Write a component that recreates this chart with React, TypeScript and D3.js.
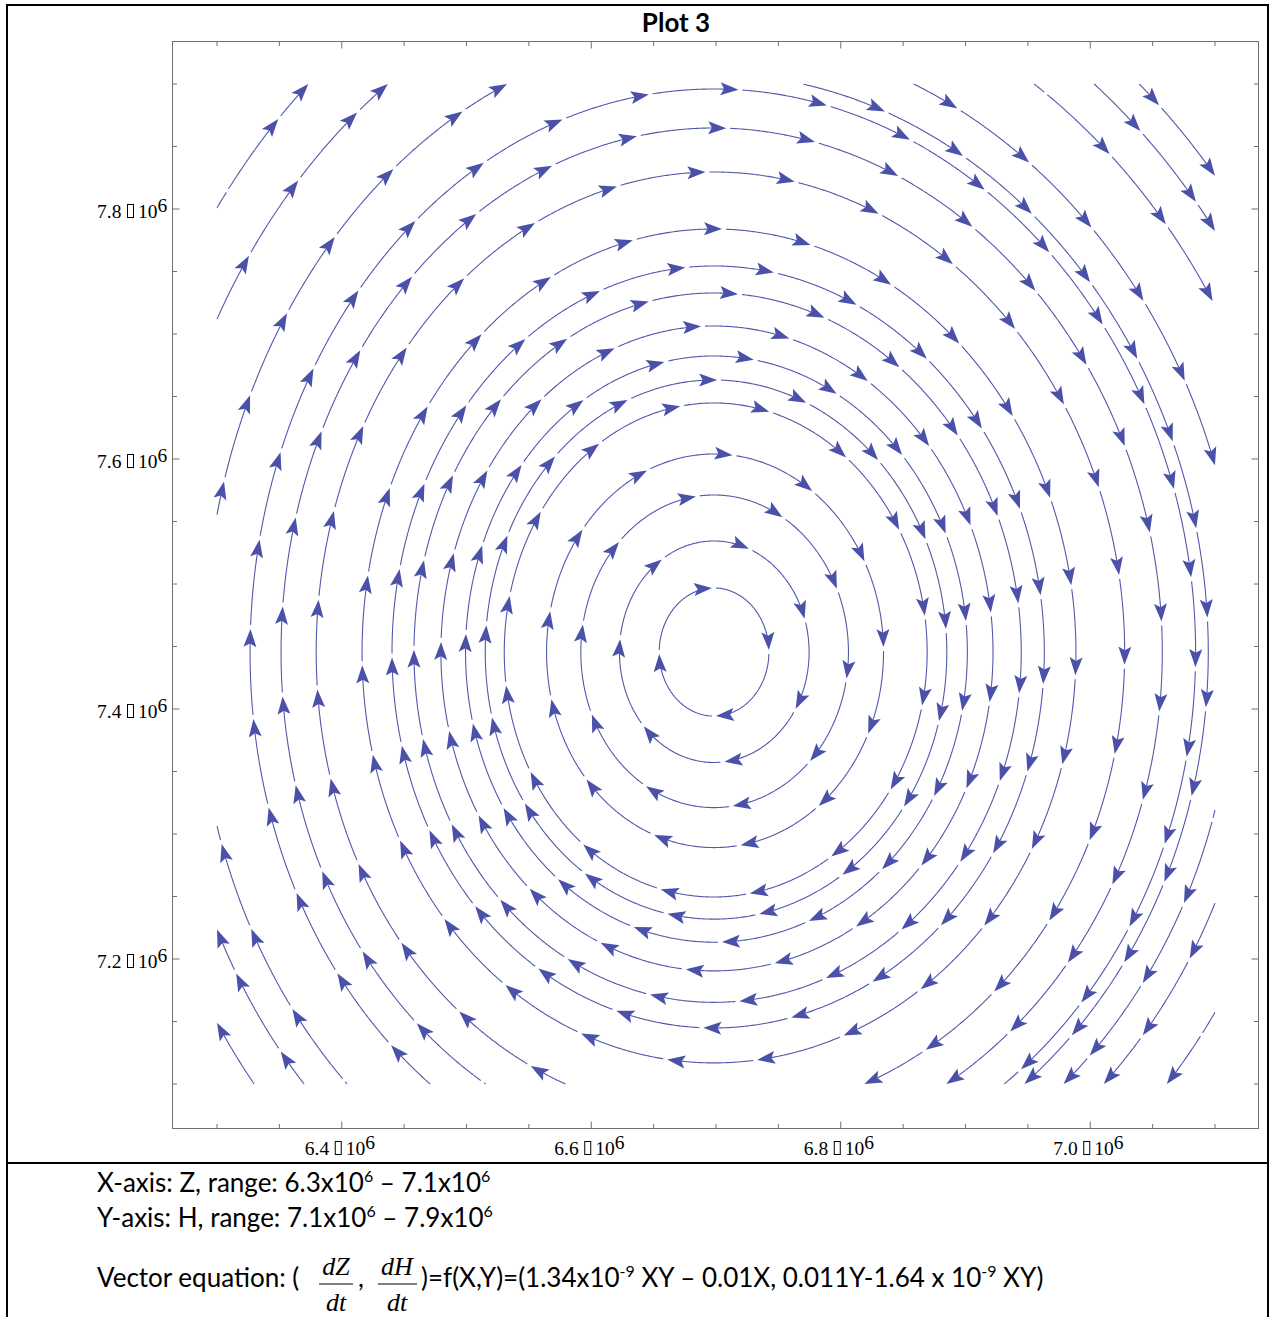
import * as d3 from "d3";
import { useMemo } from "react";

const W = 1271;
const H = 1317;

// vector field coefficients: dZ/dt = a1*Z*H - a2*Z, dH/dt = b1*H - b2*Z*H
const a1 = 1.3431e-9;
const a2 = 0.01;
const b1 = 0.011;
const b2 = 1.6422e-9;

const xTicks = [6.4e6, 6.6e6, 6.8e6, 7.0e6];
const xTickLabels = ["6.4", "6.6", "6.8", "7.0"];
const yTicks = [7.2e6, 7.4e6, 7.6e6, 7.8e6];
const yTickLabels = ["7.2", "7.4", "7.6", "7.8"];
const minorTicks = d3.range(0, 17).map(i => i * 0.05);

// streamline seeds, millions (Z, H)
// loops seeded where they cross the top of their orbit
const loopSeeds = [
  [6.7, 7.4968], [6.7, 7.5344], [6.7, 7.5712], [6.7, 7.604], [6.7, 7.6448],
  [6.7, 7.6632], [6.7, 7.6824], [6.7, 7.7064], [6.7, 7.7328], [6.7, 7.7544],
  [6.7, 7.784], [6.7, 7.8296], [6.7, 7.8648], [6.7, 7.896]
];
// arcs cut by the plot range, seeded on the edge they touch
const edgeSeeds = [
  // left edge, top-left corner
  [6.3, 7.8016], [6.3, 7.7128], [6.3, 7.5576],
  // top edge, top-right corner
  [6.7711, 7.9], [6.8593, 7.9], [6.9555, 7.9], [7.0036, 7.9], [7.0397, 7.9],
  // bottom edge, bottom-right corner
  [6.8148, 7.1], [6.9311, 7.1], [6.979, 7.1], [7.0112, 7.1], [7.0617, 7.1],
  // bottom edge, bottom-left corner
  [6.3295, 7.1], [6.3695, 7.1], [6.404, 7.1]
];

const x = d3.scaleLinear().domain([6.3e6, 7.1e6]).range([217, 1215]);
const y = d3.scaleLinear().domain([7.1e6, 7.9e6]).range([1084, 84]);
const [x0, x1] = x.range();
const [y1, y0] = y.range();

const kx = (x1 - x0) / 0.8e6;
const ky = (y1 - y0) / 0.8e6;

function dir(p) {
  const Z = x.invert(p[0]);
  const Hh = y.invert(p[1]);
  const vx = (a1 * Z * Hh - a2 * Z) * kx;
  const vy = -(b1 * Hh - b2 * Z * Hh) * ky;
  const m = Math.hypot(vx, vy) || 1;
  return [vx / m, vy / m];
}

function rk(p, h) {
  const k1 = dir(p);
  const k2 = dir([p[0] + h / 2 * k1[0], p[1] + h / 2 * k1[1]]);
  const k3 = dir([p[0] + h / 2 * k2[0], p[1] + h / 2 * k2[1]]);
  const k4 = dir([p[0] + h * k3[0], p[1] + h * k3[1]]);
  return [
    p[0] + h / 6 * (k1[0] + 2 * k2[0] + 2 * k3[0] + k4[0]),
    p[1] + h / 6 * (k1[1] + 2 * k2[1] + 2 * k3[1] + k4[1])
  ];
}

const inside = p => p[0] >= x0 && p[0] <= x1 && p[1] >= y0 && p[1] <= y1;

function clip(p, q) {
  let t = 1;
  if (q[0] < x0) t = Math.min(t, (x0 - p[0]) / (q[0] - p[0]));
  if (q[0] > x1) t = Math.min(t, (x1 - p[0]) / (q[0] - p[0]));
  if (q[1] < y0) t = Math.min(t, (y0 - p[1]) / (q[1] - p[1]));
  if (q[1] > y1) t = Math.min(t, (y1 - p[1]) / (q[1] - p[1]));
  return [p[0] + t * (q[0] - p[0]), p[1] + t * (q[1] - p[1])];
}

const STEP = 1.5;
const DSEP = 9;

// occupancy grid so a new streamline stops when it runs into an older one
function makeGrid() {
  const cells = new Map();
  const key = (i, j) => i + "," + j;
  return {
    add(pts) {
      pts.forEach(p => {
        const k = key(Math.floor(p[0] / DSEP), Math.floor(p[1] / DSEP));
        if (!cells.has(k)) cells.set(k, []);
        cells.get(k).push(p);
      });
    },
    near(p) {
      const i = Math.floor(p[0] / DSEP), j = Math.floor(p[1] / DSEP);
      for (let di = -1; di <= 1; di++) {
        for (let dj = -1; dj <= 1; dj++) {
          const arr = cells.get(key(i + di, j + dj));
          if (!arr) continue;
          for (const q of arr) if (Math.hypot(q[0] - p[0], q[1] - p[1]) < DSEP) return true;
        }
      }
      return false;
    }
  };
}

function trace(seed, grid) {
  const p0 = [
    Math.min(x1 - 0.5, Math.max(x0 + 0.5, x(seed[0] * 1e6))),
    Math.min(y1 - 0.5, Math.max(y0 + 0.5, y(seed[1] * 1e6)))
  ];
  if (grid.near(p0)) return null;
  const fwd = [p0];
  let p = p0;
  let len = 0;
  for (let i = 0; i < 8000; i++) {
    const q = rk(p, STEP);
    if (!inside(q)) { fwd.push(clip(p, q)); break; }
    if (grid.near(q)) break;
    len += STEP;
    fwd.push(q);
    p = q;
    if (len > 50 && Math.hypot(q[0] - p0[0], q[1] - p0[1]) < STEP * 1.5) {
      fwd.push(p0);
      return { pts: fwd, closed: true };
    }
  }
  const bwd = [];
  p = p0;
  for (let i = 0; i < 8000; i++) {
    const q = rk(p, -STEP);
    if (!inside(q)) { bwd.push(clip(p, q)); break; }
    if (grid.near(q)) break;
    bwd.push(q);
    p = q;
  }
  return { pts: bwd.reverse().concat(fwd), closed: false };
}

const PERIOD = 90;
const GAP = 4;
const AL = 18;
const AW = 6.5;

function cumLen(pts) {
  const c = [0];
  for (let i = 1; i < pts.length; i++) {
    c.push(c[i - 1] + Math.hypot(pts[i][0] - pts[i - 1][0], pts[i][1] - pts[i - 1][1]));
  }
  return c;
}

function at(pts, c, s) {
  let i = d3.bisectLeft(c, s);
  if (i <= 0) return pts[0];
  if (i >= pts.length) return pts[pts.length - 1];
  const t = (s - c[i - 1]) / ((c[i] - c[i - 1]) || 1);
  return [pts[i - 1][0] + t * (pts[i][0] - pts[i - 1][0]), pts[i - 1][1] + t * (pts[i][1] - pts[i - 1][1])];
}

function piece(pts, c, a, b) {
  const out = [at(pts, c, a)];
  for (let i = 0; i < pts.length; i++) if (c[i] > a && c[i] < b) out.push(pts[i]);
  out.push(at(pts, c, b));
  return out;
}

function arrowHead(pts, c, s) {
  const tip = at(pts, c, s);
  const bk = at(pts, c, Math.max(0, s - 4));
  let dx = tip[0] - bk[0];
  let dy = tip[1] - bk[1];
  const m = Math.hypot(dx, dy) || 1;
  dx /= m; dy /= m;
  const nx = -dy, ny = dx;
  const bx = tip[0] - AL * dx, by = tip[1] - AL * dy;
  const mx = tip[0] - AL * 0.8 * dx, my = tip[1] - AL * 0.8 * dy;
  return [[tip[0], tip[1]], [bx + AW * nx, by + AW * ny], [mx, my], [bx - AW * nx, by - AW * ny]];
}

function buildStreams() {
  const lines = [];
  const heads = [];
  const grid = makeGrid();
  const seeds = loopSeeds.concat(edgeSeeds);
  seeds.forEach((sd, idx) => {
    const res = trace(sd, grid);
    if (!res) return;
    const { pts, closed } = res;
    const c = cumLen(pts);
    const T = c[c.length - 1];
    if (T < 20) return;
    grid.add(pts);
    const off = (idx * 37) % PERIOD;
    if (closed) {
      const n = Math.max(1, Math.round(T / PERIOD));
      const per = T / n;
      const dbl = pts.concat(pts.slice(1));
      const cd = c.concat(c.slice(1).map(v => v + T));
      for (let k = 0; k < n; k++) {
        const a = off * per / PERIOD + k * per;
        const b = a + per - GAP;
        lines.push(piece(dbl, cd, a, b - 3));
        heads.push(arrowHead(dbl, cd, b));
      }
    } else {
      for (let k = 0; ; k++) {
        let a = k * PERIOD - off;
        let b = a + PERIOD - GAP;
        if (a >= T) break;
        if (b <= 0) continue;
        a = Math.max(a, 0);
        b = Math.min(b, T);
        if (b - a < 2) continue;
        if (b - a > 28) {
          lines.push(piece(pts, c, a, b - 3));
          heads.push(arrowHead(pts, c, b));
        } else {
          lines.push(piece(pts, c, a, b));
        }
      }
    }
  });
  return { lines, heads };
}

const lineGen = d3.line();

const tickFont = "'Liberation Serif', 'DejaVu Serif', serif";
const textFont = "Lato, 'Open Sans', sans-serif";
const mathFont = "'Liberation Serif', serif";

// Mathematica printed the times sign as a missing-glyph box
const TickLabel = ({ num, x: lx, y: ly }) => (
  <g fontFamily={tickFont} fontSize={19.5} fill="#000">
    <text x={lx} y={ly}>{num}</text>
    <rect x={lx + 30.5} y={ly - 13.5} width={6} height={13} fill="none" stroke="#000" strokeWidth={1} />
    <text x={lx + 41} y={ly}>10</text>
    <text x={lx + 60.5} y={ly - 6}>6</text>
  </g>
);

export default function App() {
  const { lines, heads } = useMemo(buildStreams, []);
  const frame = { l: 172, r: 1258, t: 41, b: 1128 };
  const tickColor = "#707070";

  const xMinor = minorTicks.map(v => x(6.3e6 + v * 1e6));
  const yMinor = minorTicks.map(v => y(7.1e6 + v * 1e6));
  const xMajor = xTicks.map(v => x(v));
  const yMajor = yTicks.map(v => y(v));

  return (
    <svg width={W} height={H} style={{ position: "absolute", left: 0, top: 0, display: "block" }}>
      <rect x={0} y={0} width={W} height={H} fill="#fff" />
      {/* outer table borders */}
      <line x1={7} x2={7} y1={4} y2={H} stroke="#000" strokeWidth={2} />
      <line x1={1268} x2={1268} y1={4} y2={H} stroke="#000" strokeWidth={2} />
      <line x1={6} x2={1269} y1={5} y2={5} stroke="#000" strokeWidth={2} />
      <line x1={6} x2={1269} y1={1163} y2={1163} stroke="#000" strokeWidth={2} />

      <text x={676} y={32} textAnchor="middle" fontFamily={textFont} fontWeight="bold" fontSize={26}>Plot 3</text>

      {/* frame */}
      <rect x={frame.l + 0.5} y={frame.t + 0.5} width={frame.r - frame.l} height={frame.b - frame.t}
        fill="none" stroke={tickColor} strokeWidth={1} />
      {xMinor.map((px, i) => {
        const len = xMajor.some(m => Math.abs(m - px) < 1) ? 7 : 4.5;
        return (
          <g key={"xt" + i} stroke={tickColor}>
            <line x1={px} x2={px} y1={frame.b + 0.5} y2={frame.b + 0.5 - len} />
            <line x1={px} x2={px} y1={frame.t + 0.5} y2={frame.t + 0.5 + len} />
          </g>
        );
      })}
      {yMinor.map((py, i) => {
        const len = yMajor.some(m => Math.abs(m - py) < 1) ? 7 : 4.5;
        return (
          <g key={"yt" + i} stroke={tickColor}>
            <line x1={frame.l + 0.5} x2={frame.l + 0.5 + len} y1={py} y2={py} />
            <line x1={frame.r + 0.5} x2={frame.r + 0.5 - len} y1={py} y2={py} />
          </g>
        );
      })}
      {xTicks.map((v, i) => (
        <TickLabel key={"xl" + i} num={xTickLabels[i]} x={x(v) - 37} y={1155} />
      ))}
      {yTicks.map((v, i) => (
        <TickLabel key={"yl" + i} num={yTickLabels[i]} x={97} y={y(v) + 9} />
      ))}

      {/* streamlines */}
      <g fill="none" stroke="#5258ab" strokeWidth={1.1}>
        {lines.map((l, i) => <path key={"s" + i} d={lineGen(l)} />)}
      </g>
      <g fill="#4b51a9" stroke="none">
        {heads.map((h, i) => <polygon key={"a" + i} points={h.map(p => p.join(",")).join(" ")} />)}
      </g>

      {/* caption */}
      <g fontFamily={textFont} fontSize={26} fill="#000">
        <text x={97} y={1192}>
          X-axis: Z, range: 6.3x10<tspan dy={-10} fontSize={16}>6</tspan>
          <tspan dy={10}> – 7.1x10</tspan><tspan dy={-10} fontSize={16}>6</tspan>
        </text>
        <text x={97} y={1227}>
          Y-axis: H, range: 7.1x10<tspan dy={-10} fontSize={16}>6</tspan>
          <tspan dy={10}> – 7.9x10</tspan><tspan dy={-10} fontSize={16}>6</tspan>
        </text>
        <text x={97} y={1287}>Vector equation: (</text>
        <text x={336} y={1275} textAnchor="middle" fontFamily={mathFont} fontStyle="italic" fontSize={26}>dZ</text>
        <line x1={319} x2={353} y1={1284} y2={1284} stroke="#000" strokeWidth={1} />
        <text x={336} y={1311} textAnchor="middle" fontFamily={mathFont} fontStyle="italic" fontSize={26}>dt</text>
        <text x={358} y={1287}>,</text>
        <text x={397} y={1275} textAnchor="middle" fontFamily={mathFont} fontStyle="italic" fontSize={26}>dH</text>
        <line x1={378} x2={417} y1={1284} y2={1284} stroke="#000" strokeWidth={1} />
        <text x={397} y={1311} textAnchor="middle" fontFamily={mathFont} fontStyle="italic" fontSize={26}>dt</text>
        <text x={421} y={1287}>
          )=f(X,Y)=(1.34x10<tspan dy={-10} fontSize={16}>-9</tspan>
          <tspan dy={10}> XY – 0.01X, 0.011Y-1.64 x 10</tspan><tspan dy={-10} fontSize={16}>-9</tspan>
          <tspan dy={10}> XY)</tspan>
        </text>
      </g>
    </svg>
  );
}
